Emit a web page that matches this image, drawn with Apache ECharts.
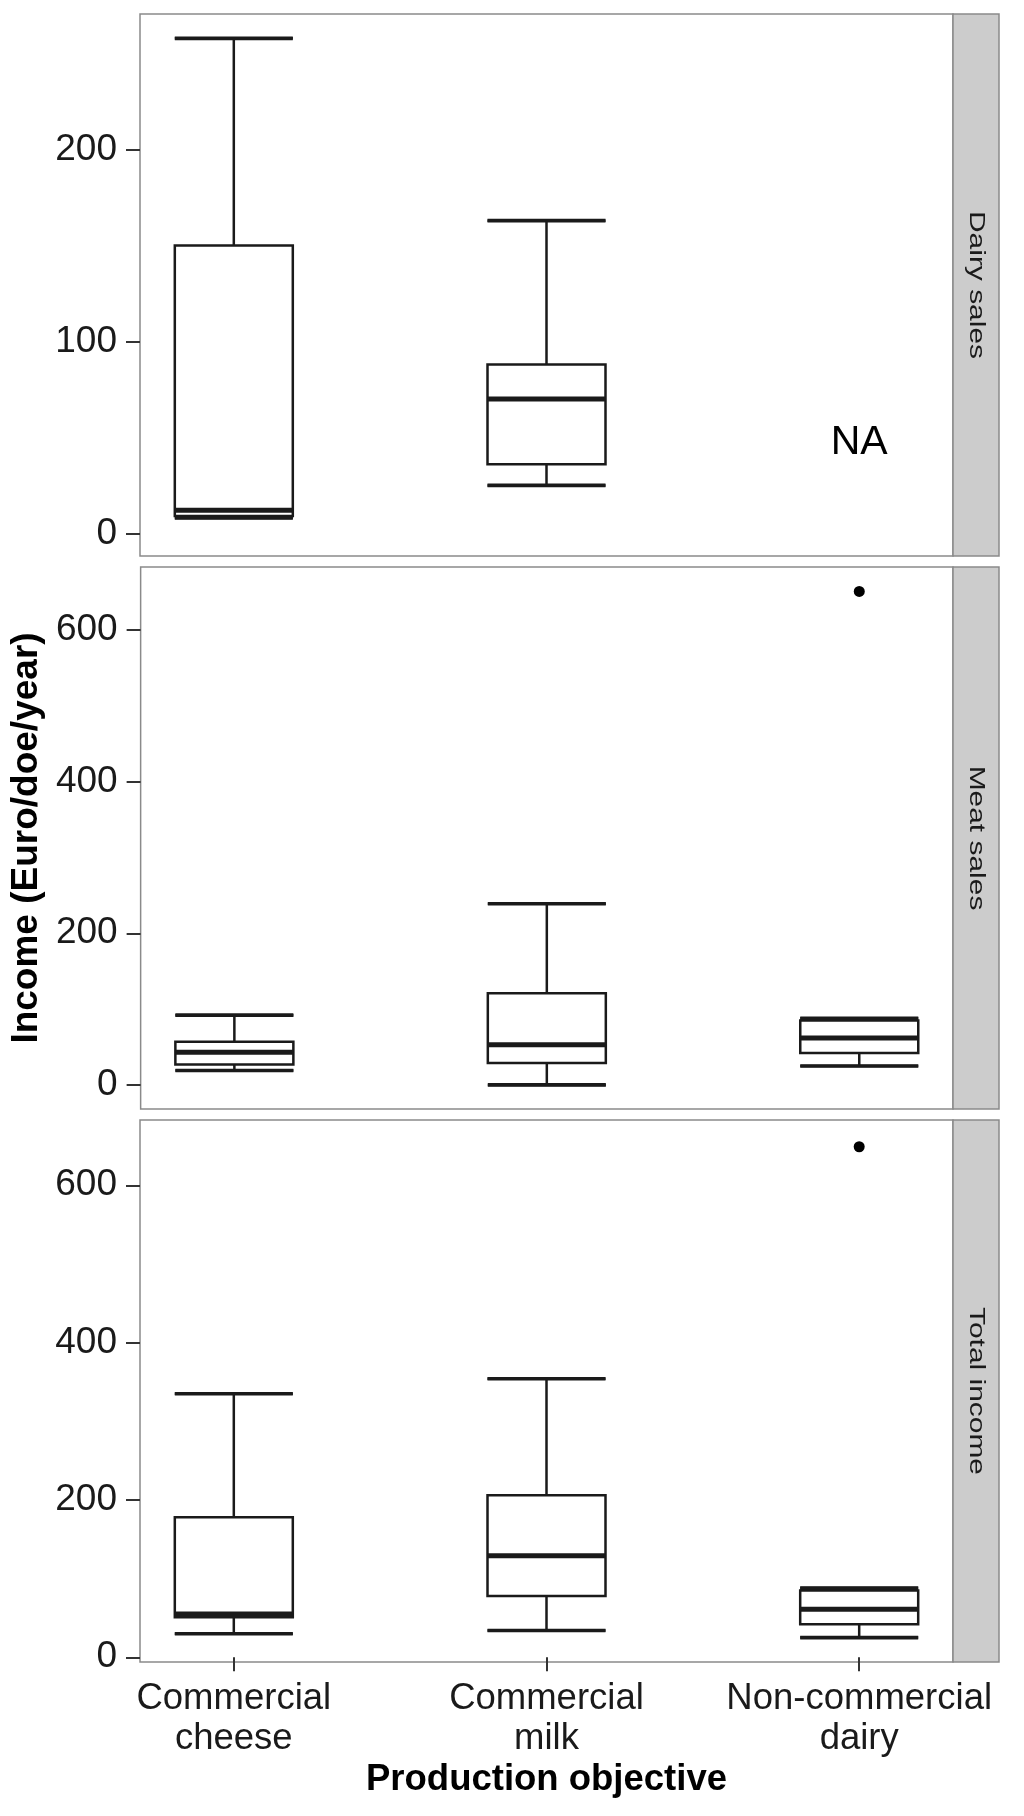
<!DOCTYPE html>
<html>
<head>
<meta charset="utf-8">
<script src="https://cdn.jsdelivr.net/npm/echarts@6/dist/echarts.min.js"></script>
<style>
  html, body { margin: 0; padding: 0; background: #fff; }
  #chart { width: 1024px; height: 1816px; }
</style>
</head>
<body>
<div id="chart"></div>
<script>
// data
var categories = ['Commercial\ncheese', 'Commercial\nmilk', 'Non-commercial\ndairy'];
var facets = ['Dairy sales', 'Meat sales', 'Total income'];

// [min, Q1, median, Q3, max] per category, null = no data
var dairyBoxes = [[8, 9, 12, 150, 258], [25, 36, 70, 88, 163], null];
var meatBoxes = [[19, 27, 43, 57, 92], [0, 29, 53, 121, 239], [25, 42, 62, 85, 88]];
var totalBoxes = [[30, 51, 55, 178, 335], [34, 78, 129, 206, 354], [25, 42, 61, 85, 88]];

// outliers: [category position, value]
var dairyOutliers = [];
var meatOutliers = [[3, 651]];
var totalOutliers = [[3, 649]];

// "NA" note in the dairy panel
var dairyNotes = [[3, 47, 'NA']];

var dairyTicks = [0, 100, 200];
var meatTicks = [0, 200, 400, 600];
var totalTicks = [0, 200, 400, 600];

var dairyRange = [-11.8, 270.7];
var meatRange = [-31.8, 683.2];
var totalRange = [-6, 683];

// layout
var PANEL_LEFT = 140, PANEL_W = 813, PANEL_H = 542, STRIP_W = 46;
var PANEL_TOPS = [14, 567, 1120];
var BOX_PX = 118;
var FONT = '"Liberation Sans", Arial, Helvetica, sans-serif';
var INK = '#1a1a1a';

var panels = [
  { boxes: dairyBoxes, outliers: dairyOutliers, notes: dairyNotes, ticks: dairyTicks, range: dairyRange },
  { boxes: meatBoxes, outliers: meatOutliers, notes: [], ticks: meatTicks, range: meatRange },
  { boxes: totalBoxes, outliers: totalOutliers, notes: [], ticks: totalTicks, range: totalRange }
];

// thick median + whisker caps drawn over the boxplot
function renderLines(params, api) {
  var x = api.value(0);
  var half = BOX_PX / 2;
  var parts = [[api.value(1), 3.6], [api.value(2), 5], [api.value(3), 3.6]];
  return {
    type: 'group',
    children: parts.map(function (pt) {
      var c = api.coord([x, pt[0]]);
      return {
        type: 'line',
        shape: { x1: c[0] - half, y1: c[1], x2: c[0] + half, y2: c[1] },
        style: { stroke: INK, lineWidth: pt[1] }
      };
    })
  };
}

var myChart = echarts.init(document.getElementById('chart'));

var grids = [], xAxes = [], yAxes = [], series = [], graphics = [];

panels.forEach(function (p, i) {
  var last = i === panels.length - 1;
  grids.push({
    left: PANEL_LEFT, top: PANEL_TOPS[i], width: PANEL_W, height: PANEL_H,
    show: true, backgroundColor: '#fff', borderColor: '#8a8a8a', borderWidth: 1.5
  });
  xAxes.push({
    type: 'value', gridIndex: i, min: 0.7, max: 3.3,
    splitLine: { show: false },
    axisLine: { show: false },
    axisTick: { show: last, length: 14, lineStyle: { color: '#333', width: 2 }, customValues: [1, 2, 3] },
    axisLabel: {
      show: last, customValues: [1, 2, 3], margin: 17,
      fontFamily: FONT, fontSize: 36.5, lineHeight: 40, color: INK,
      formatter: function (v) { return categories[Math.round(v) - 1] || ''; }
    },
    name: last ? 'Production objective' : '',
    nameLocation: 'middle', nameGap: 95,
    nameTextStyle: { fontFamily: FONT, fontSize: 36.5, fontWeight: 'bold', color: '#000', lineHeight: 40 }
  });
  yAxes.push({
    type: 'value', gridIndex: i, min: p.range[0], max: p.range[1],
    splitLine: { show: false },
    axisLine: { show: false },
    axisTick: { show: true, length: 14, lineStyle: { color: '#333', width: 2 }, customValues: p.ticks },
    axisLabel: { customValues: p.ticks, margin: 23, fontFamily: FONT, fontSize: 37, color: INK },
    name: i === 1 ? 'Income (Euro/doe/year)' : '',
    nameLocation: 'middle', nameRotate: 90, nameGap: 80,
    nameTextStyle: { fontFamily: FONT, fontSize: 37, fontWeight: 'bold', color: '#000' }
  });

  var boxData = [], lineData = [];
  p.boxes.forEach(function (b, k) {
    if (!b) return;
    boxData.push([k + 1].concat(b));
    lineData.push([k + 1, b[0], b[2], b[4]]);
  });

  series.push({
    type: 'boxplot', xAxisIndex: i, yAxisIndex: i, z: 2,
    boxWidth: [BOX_PX, BOX_PX],
    itemStyle: { color: '#fff', borderColor: INK, borderWidth: 2.5 },
    data: boxData
  });
  series.push({
    type: 'custom', xAxisIndex: i, yAxisIndex: i, z: 5,
    data: lineData,
    renderItem: renderLines
  });
  if (p.outliers.length) {
    series.push({
      type: 'scatter', xAxisIndex: i, yAxisIndex: i, z: 5,
      symbol: 'circle', symbolSize: 11,
      itemStyle: { color: '#000', opacity: 1 },
      data: p.outliers
    });
  }
  if (p.notes.length) {
    series.push({
      type: 'scatter', xAxisIndex: i, yAxisIndex: i,
      symbolSize: 0,
      itemStyle: { opacity: 1 },
      label: {
        show: true, position: 'inside', fontFamily: FONT, fontSize: 41, color: '#000',
        formatter: function (d) { return d.value[2]; }
      },
      data: p.notes
    });
  }

  // facet strip on the right
  graphics.push({
    type: 'rect',
    shape: { x: PANEL_LEFT + PANEL_W, y: PANEL_TOPS[i], width: STRIP_W, height: PANEL_H },
    style: { fill: '#cccccc', stroke: '#8a8a8a', lineWidth: 1.5 }
  });
  graphics.push({
    type: 'text',
    x: PANEL_LEFT + PANEL_W + STRIP_W / 2,
    y: PANEL_TOPS[i] + PANEL_H / 2,
    rotation: -Math.PI / 2,
    scaleX: 1.36,
    style: {
      text: facets[i], fontFamily: FONT, fontSize: 22, fill: '#1a1a1a',
      textAlign: 'center', textVerticalAlign: 'middle'
    }
  });
});

option = {
  backgroundColor: '#fff',
  animation: false,
  grid: grids,
  xAxis: xAxes,
  yAxis: yAxes,
  series: series,
  graphic: graphics
};
myChart.setOption(option);
</script>
</body>
</html>
